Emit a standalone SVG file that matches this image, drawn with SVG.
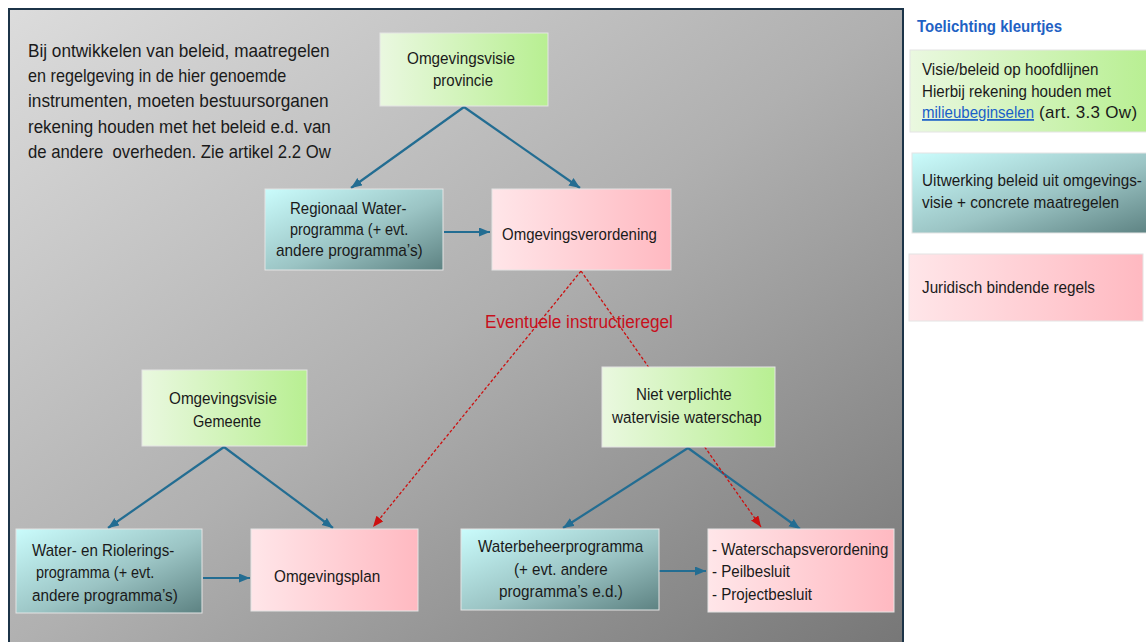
<svg xmlns="http://www.w3.org/2000/svg" width="1146" height="642" viewBox="0 0 1146 642">
<style>
text{font-family:"Liberation Sans",Arial,sans-serif;fill:#1a1a1a;font-size:17px;white-space:pre}
.p{font-size:18px}
.red{fill:#c8101c;font-size:18px}
.title{font-weight:bold;fill:#1f62c4;font-size:16px}
.link{fill:#1a5fc8;text-decoration:underline}
.box{stroke:#e4e4e4;stroke-width:1}
.g{fill:url(#gGreen)}
.c{fill:url(#gTeal)}
.k{fill:url(#gPink)}
.blue{stroke:#236d92;stroke-width:2.2;fill:none;marker-end:url(#ab)}
.dash{stroke:#cc1010;stroke-width:1.3;fill:none;stroke-dasharray:3 2;marker-end:url(#ar)}
</style>
<defs>
<linearGradient id="bg" x1="0" y1="0" x2="1" y2="1">
<stop offset="0" stop-color="#dcdcdc"/>
<stop offset="0.5" stop-color="#b0b0b0"/>
<stop offset="1" stop-color="#767676"/>
</linearGradient>
<linearGradient id="gGreen" x1="0" y1="0" x2="1" y2="0">
<stop offset="0" stop-color="#eaf8e0"/>
<stop offset="1" stop-color="#b8ef92"/>
</linearGradient>
<linearGradient id="gTeal" x1="0" y1="0" x2="1" y2="1">
<stop offset="0" stop-color="#cafcfc"/>
<stop offset="0.55" stop-color="#9bc4c4"/>
<stop offset="1" stop-color="#5d8282"/>
</linearGradient>
<linearGradient id="gPink" x1="0" y1="0" x2="1" y2="0">
<stop offset="0" stop-color="#ffe6e9"/>
<stop offset="1" stop-color="#ffb9c1"/>
</linearGradient>
<marker id="ab" markerUnits="userSpaceOnUse" markerWidth="12" markerHeight="10" refX="11" refY="4.5" orient="auto">
<path d="M0,0 L11,4.5 L0,9 z" fill="#236d92"/>
</marker>
<marker id="ar" markerUnits="userSpaceOnUse" markerWidth="12" markerHeight="10" refX="11" refY="4.5" orient="auto">
<path d="M0,0 L11,4.5 L0,9 z" fill="#cc1010"/>
</marker>
</defs>
<rect x="0" y="0" width="1146" height="642" fill="#ffffff"/>
<rect id="panel" x="9" y="9" width="894" height="645" fill="url(#bg)" stroke="#1c3448" stroke-width="2"/>

<g id="intro">
<text class="p" transform="translate(28,57) scale(0.955,1)">Bij ontwikkelen van beleid, maatregelen</text>
<text class="p" transform="translate(28,82) scale(0.9,1)">en regelgeving in de hier genoemde</text>
<text class="p" transform="translate(28,107) scale(0.957,1)">instrumenten, moeten bestuursorganen</text>
<text class="p" transform="translate(28,133) scale(0.943,1)">rekening houden met het beleid e.d. van</text>
<text class="p" transform="translate(28,158) scale(0.929,1)">de andere  overheden. Zie artikel 2.2 Ow</text>
</g>

<g id="connectors">
<path class="blue" d="M464,107 L351,188"/>
<path class="blue" d="M464,107 L580,188"/>
<path class="blue" d="M444,232 L490,232"/>
<path class="blue" d="M224,447 L108,528"/>
<path class="blue" d="M224,447 L333,528"/>
<path class="blue" d="M203,578 L250,578"/>
<path class="blue" d="M688,448 L563,528"/>
<path class="blue" d="M688,448 L800,529"/>
<path class="blue" d="M659,571 L706,571"/>
<path class="dash" d="M581,271 L373,527"/>
<path class="dash" d="M581,271 L761,527"/>
<text class="red" transform="translate(485,328) scale(0.954,1)">Eventuele instructieregel</text>
</g>

<g id="omgevingsvisie-provincie">
<rect class="box g" x="380" y="33" width="168" height="73"/>
<text transform="translate(407,64) scale(0.9,1)">Omgevingsvisie</text>
<text transform="translate(433,86) scale(0.882,1)">provincie</text>
</g>
<g id="regionaal-waterprogramma">
<rect class="box c" x="265" y="189" width="178" height="81"/>
<text transform="translate(290,214) scale(0.885,1)">Regionaal Water-</text>
<text transform="translate(290,235) scale(0.85,1)">programma (+ evt.</text>
<text transform="translate(276,256) scale(0.905,1)">andere programma’s)</text>
</g>
<g id="omgevingsverordening">
<rect class="box k" x="492" y="189" width="179" height="81"/>
<text transform="translate(502,240) scale(0.882,1)">Omgevingsverordening</text>
</g>
<g id="omgevingsvisie-gemeente">
<rect class="box g" x="142" y="370" width="165" height="76"/>
<text transform="translate(169,404) scale(0.9,1)">Omgevingsvisie</text>
<text transform="translate(193,427) scale(0.857,1)">Gemeente</text>
</g>
<g id="water-rioleringsprogramma">
<rect class="box c" x="16" y="529" width="186" height="84"/>
<text transform="translate(32,556) scale(0.89,1)">Water- en Riolerings-</text>
<text transform="translate(36,578) scale(0.85,1)">programma (+ evt.</text>
<text transform="translate(32,601) scale(0.9,1)">andere programma’s)</text>
</g>
<g id="omgevingsplan">
<rect class="box k" x="251" y="529" width="167" height="82"/>
<text transform="translate(274,582) scale(0.9,1)">Omgevingsplan</text>
</g>
<g id="watervisie-waterschap">
<rect class="box g" x="602" y="367" width="173" height="80"/>
<text transform="translate(636,400) scale(0.89,1)">Niet verplichte</text>
<text transform="translate(612,423) scale(0.897,1)">watervisie waterschap</text>
</g>
<g id="waterbeheerprogramma">
<rect class="box c" x="461" y="529" width="198" height="81"/>
<text transform="translate(478,552) scale(0.896,1)">Waterbeheerprogramma</text>
<text transform="translate(514,575) scale(0.89,1)">(+ evt. andere</text>
<text transform="translate(499,597) scale(0.9,1)">programma’s e.d.)</text>
</g>
<g id="waterschapsverordening">
<rect class="box k" x="708" y="529" width="186" height="83"/>
<text transform="translate(712,555) scale(0.888,1)">- Waterschapsverordening</text>
<text transform="translate(712,577) scale(0.888,1)">- Peilbesluit</text>
<text transform="translate(712,600) scale(0.89,1)">- Projectbesluit</text>
</g>

<g id="legend">
<text class="title" transform="translate(917,32) scale(0.94,1)">Toelichting kleurtjes</text>
<g id="legend-visie">
<rect class="box g" x="910" y="50" width="240" height="82"/>
<text transform="translate(922,75) scale(0.896,1)">Visie/beleid op hoofdlijnen</text>
<text transform="translate(922,97) scale(0.889,1)">Hierbij rekening houden met</text>
<text class="link" transform="translate(922,118) scale(0.885,1)">milieubeginselen</text>
<text transform="translate(1039,118)" letter-spacing="0.3">(art. 3.3 Ow)</text>
</g>
<g id="legend-uitwerking">
<rect class="box c" x="912" y="153" width="240" height="80"/>
<text transform="translate(922,186) scale(0.899,1)">Uitwerking beleid uit omgevings-</text>
<text transform="translate(922,208) scale(0.905,1)">visie + concrete maatregelen</text>
</g>
<g id="legend-juridisch">
<rect class="box k" x="909" y="254" width="234" height="67"/>
<text transform="translate(922,293) scale(0.898,1)">Juridisch bindende regels</text>
</g>
</g>
</svg>
